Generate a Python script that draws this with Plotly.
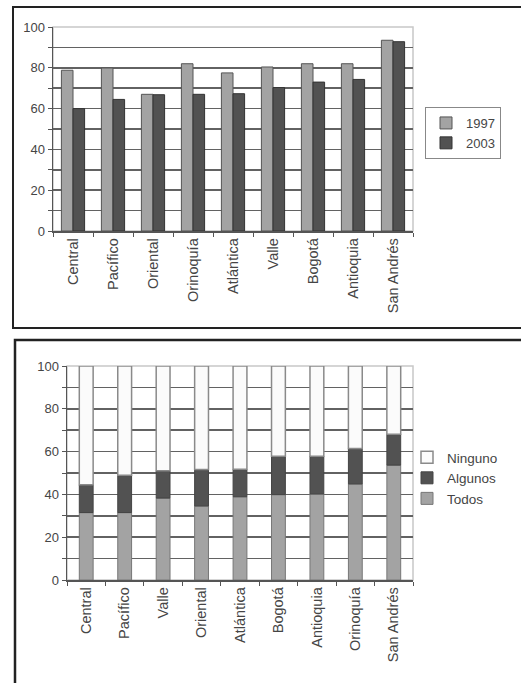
import plotly.graph_objects as go

# ---- data: chart 1 (grouped bars) ----
cats1 = ["Central", "Pacífico", "Oriental", "Orinoquía", "Atlántica", "Valle", "Bogotá", "Antioquia", "San Andrés"]
v1997 = [78.8, 79.9, 67.0, 82.0, 77.5, 80.4, 82.0, 82.0, 93.5]
v2003 = [60.0, 64.5, 66.8, 67.0, 67.3, 70.3, 73.0, 74.3, 92.8]

# ---- data: chart 2 (stacked bars) ----
cats2 = ["Central", "Pacífico", "Valle", "Oriental", "Atlántica", "Bogotá", "Antioquia", "Orinoquía", "San Andrés"]
todos = [31.5, 31.5, 38.3, 34.6, 38.9, 39.9, 40.2, 44.9, 53.7]
algunos = [13.0, 17.4, 12.8, 17.0, 12.8, 17.9, 17.6, 16.6, 14.4]
ninguno = [round(100 - t - a, 1) for t, a in zip(todos, algunos)]

yticks = [0, 20, 40, 60, 80, 100]

W, H = 521, 683
LIGHT = "#a3a3a3"
DARK = "#525252"
TXT = "#454545"
FONT = "Liberation Sans, Arial, sans-serif"

fig = go.Figure()
fig.add_trace(go.Bar(x=cats1, y=v1997, name="1997", marker=dict(color=LIGHT, line=dict(color="#555", width=1)),
                     xaxis="x", yaxis="y", legend="legend"))
fig.add_trace(go.Bar(x=cats1, y=v2003, name="2003", marker=dict(color=DARK, line=dict(color="#333", width=1)),
                     xaxis="x", yaxis="y", legend="legend"))

base_alg = todos
base_nin = [t + a for t, a in zip(todos, algunos)]
fig.add_trace(go.Bar(x=cats2, y=todos, name="Todos", offsetgroup="s", width=0.36,
                     marker=dict(color=LIGHT, line=dict(color="#777", width=1)),
                     xaxis="x2", yaxis="y2", legend="legend2"))
fig.add_trace(go.Bar(x=cats2, y=algunos, base=base_alg, name="Algunos", offsetgroup="s", width=0.36,
                     marker=dict(color=DARK, line=dict(color="#444", width=1)),
                     xaxis="x2", yaxis="y2", legend="legend2"))
fig.add_trace(go.Bar(x=cats2, y=ninguno, base=base_nin, name="Ninguno", offsetgroup="s", width=0.36,
                     marker=dict(color="#fbfbfb", line=dict(color="#8a8a8a", width=1.5)),
                     xaxis="x2", yaxis="y2", legend="legend2"))

def px_x(p):
    return p / W

def px_y(p):
    return 1 - p / H

yaxis_common = dict(
    range=[0, 100], tickvals=yticks, ticks="outside", ticklen=4, tickcolor="#555",
    showline=True, linecolor="#555", linewidth=1.5,
    showgrid=True, gridcolor="#626262", gridwidth=1.6,
    minor=dict(dtick=10, showgrid=True, gridcolor="#626262", gridwidth=1.6, ticks="outside", ticklen=4, tickcolor="#555"),
    tickfont=dict(family=FONT, size=13, color=TXT), zeroline=False, fixedrange=True, automargin=False,
)
xaxis_common = dict(
    tickangle=-90, ticks="outside", tickson="boundaries", ticklen=4, tickcolor="#555",
    showline=True, linecolor="#555", linewidth=1.5, showgrid=False,
    tickfont=dict(family=FONT, size=14.5, color=TXT), fixedrange=True, automargin=False,
)

shapes = [
    # outer frames
    dict(type="rect", xref="paper", yref="paper", x0=px_x(13), x1=1.05, y0=px_y(328), y1=px_y(7),
         line=dict(color="#222", width=2), fillcolor="rgba(0,0,0,0)", layer="below"),
    dict(type="rect", xref="paper", yref="paper", x0=px_x(15), x1=1.05, y0=-0.05, y1=px_y(340),
         line=dict(color="#222", width=2.5), fillcolor="rgba(0,0,0,0)", layer="below"),
    # plot-area borders
    dict(type="rect", xref="x domain", yref="y domain", x0=0, x1=1, y0=0, y1=1,
         line=dict(color="#c8c8c8", width=1.5), layer="below"),
    dict(type="rect", xref="x2 domain", yref="y2 domain", x0=0, x1=1, y0=0, y1=1,
         line=dict(color="#c8c8c8", width=1.5), layer="below"),
]

fig.update_layout(
    width=W, height=H, margin=dict(l=0, r=0, t=0, b=0, autoexpand=False),
    paper_bgcolor="white", plot_bgcolor="white",
    barmode="group", bargap=0.42, bargroupgap=0.0,
    showlegend=True,
    xaxis=dict(domain=[px_x(53), px_x(413)], anchor="y", **xaxis_common),
    yaxis=dict(domain=[px_y(231), px_y(27)], anchor="x", **yaxis_common),
    xaxis2=dict(domain=[px_x(67), px_x(413)], anchor="y2", **xaxis_common),
    yaxis2=dict(domain=[px_y(580), px_y(366)], anchor="x2", **yaxis_common),
    legend=dict(x=px_x(425), y=px_y(107), xanchor="left", yanchor="top",
                bordercolor="#888", borderwidth=1, bgcolor="white",
                font=dict(family=FONT, size=13, color=TXT), itemwidth=30, tracegroupgap=0),
    legend2=dict(x=px_x(407), y=px_y(442), xanchor="left", yanchor="top",
                 borderwidth=0, bgcolor="rgba(0,0,0,0)", traceorder="reversed",
                 font=dict(family=FONT, size=13.5, color=TXT), itemwidth=30),
    shapes=shapes,
)

fig.write_html("out.html", config={"displayModeBar": False, "staticPlot": True},
               post_script="document.body.style.margin='0';document.body.style.overflow='hidden';")
